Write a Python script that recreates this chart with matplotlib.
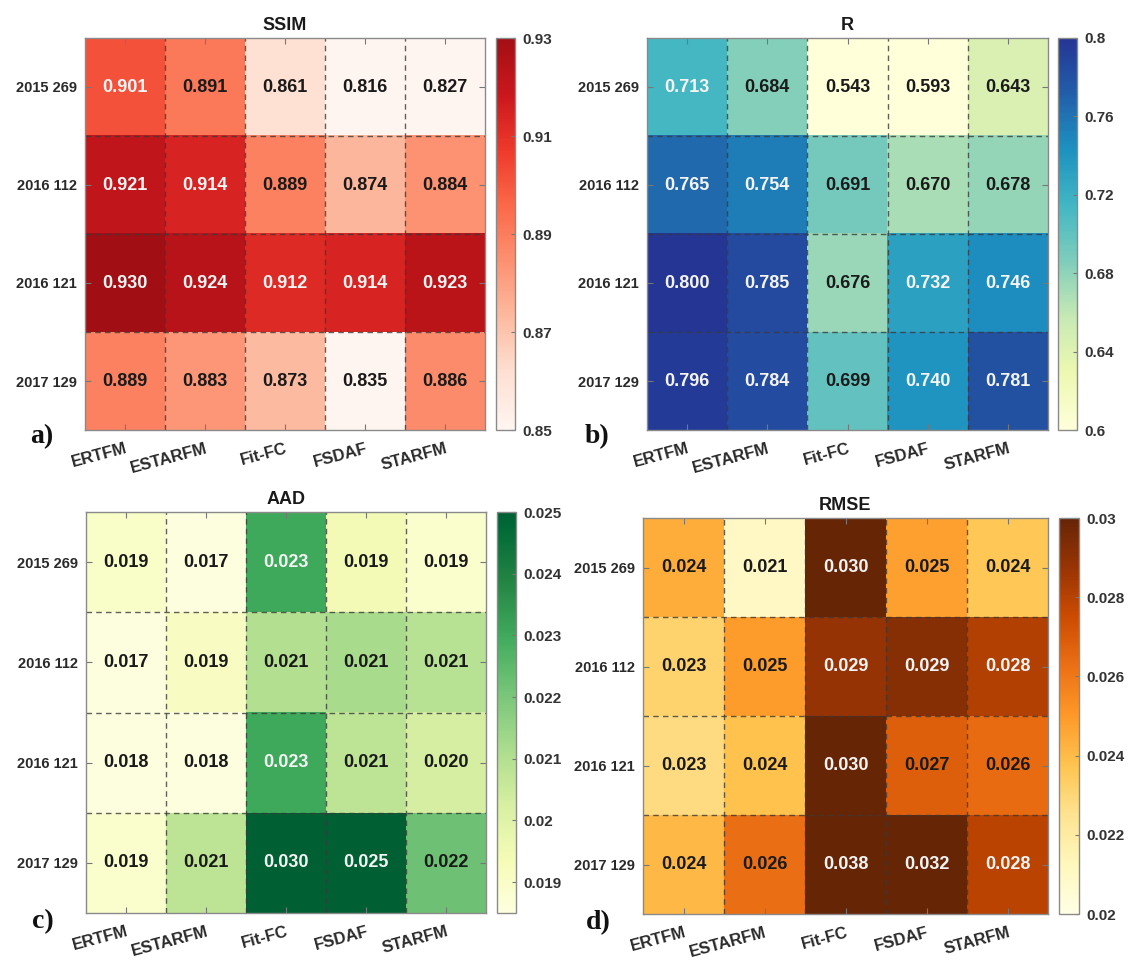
import numpy as np
import matplotlib
matplotlib.use("Agg")
import matplotlib.pyplot as plt
from matplotlib.colors import LinearSegmentedColormap

# ---------------- data ----------------
methods = ["ERTFM", "ESTARFM", "Fit-FC", "FSDAF", "STARFM"]
dates = ["2015 269", "2016 112", "2016 121", "2017 129"]

ssim = [[0.901, 0.891, 0.861, 0.816, 0.827],
        [0.921, 0.914, 0.889, 0.874, 0.884],
        [0.930, 0.924, 0.912, 0.914, 0.923],
        [0.889, 0.883, 0.873, 0.835, 0.886]]

r_vals = [[0.713, 0.684, 0.543, 0.593, 0.643],
          [0.765, 0.754, 0.691, 0.670, 0.678],
          [0.800, 0.785, 0.676, 0.732, 0.746],
          [0.796, 0.784, 0.699, 0.740, 0.781]]

aad = [[0.0190, 0.017, 0.023, 0.0194, 0.0189],
       [0.017, 0.0191, 0.021, 0.0212, 0.0209],
       [0.018, 0.018, 0.023, 0.0208, 0.0203],
       [0.0189, 0.0208, 0.030, 0.025, 0.0222]]

rmse = [[0.0244, 0.021, 0.030, 0.0248, 0.0236],
        [0.0232, 0.0249, 0.0288, 0.0292, 0.0281],
        [0.0228, 0.0238, 0.030, 0.0268, 0.0264],
        [0.0241, 0.0263, 0.038, 0.032, 0.0279]]

titles = ["SSIM", "R", "AAD", "RMSE"]
panel_letters = ["a)", "b)", "c)", "d)"]
vranges = [(0.85, 0.93), (0.6, 0.8), (0.0185, 0.025), (0.02, 0.03)]
cbar_ticks = [[0.85, 0.87, 0.89, 0.91, 0.93],
              [0.6, 0.64, 0.68, 0.72, 0.76, 0.8],
              [0.019, 0.020, 0.021, 0.022, 0.023, 0.024, 0.025],
              [0.02, 0.022, 0.024, 0.026, 0.028, 0.03]]
cbar_labels = [["0.85", "0.87", "0.89", "0.91", "0.93"],
               ["0.6", "0.64", "0.68", "0.72", "0.76", "0.8"],
               ["0.019", "0.02", "0.021", "0.022", "0.023", "0.024", "0.025"],
               ["0.02", "0.022", "0.024", "0.026", "0.028", "0.03"]]

# ---------------- styling ----------------
def trunc(name, lo, hi, n=256):
    base = plt.get_cmap(name)
    return LinearSegmentedColormap.from_list(name + "_t", base(np.linspace(lo, hi, n)))

cmaps = [trunc("Reds", 0.0, 0.88), trunc("YlGnBu", 0.0, 0.87),
         trunc("YlGn", 0.02, 0.9), trunc("YlOrBr", 0.0, 1.0)]
white_thr = [0.6, 0.53, 0.62, 0.75]

W, H = 1129, 960
fig = plt.figure(figsize=(W / 100, H / 100), dpi=100)

def fx(px):
    return px / W

def fy(py):
    return 1 - py / H

# axes boxes in pixel coords: left, right, top, bottom ; colorbar left,right
boxes = [(85, 485, 38, 430, 496, 515),
         (647, 1048, 38, 430, 1058, 1077),
         (86, 486, 512, 913, 497, 516),
         (643, 1048, 518, 914, 1059, 1079)]
letter_pos = [(42, 437), (597, 437), (43, 922), (598, 923)]

datasets = [ssim, r_vals, aad, rmse]
font = "Liberation Sans"
spine_col = "#8a8a8a"

for i, data in enumerate(datasets):
    arr = np.array(data)
    L, R, T, B, cL, cR = boxes[i]
    ax = fig.add_axes([fx(L), fy(B), fx(R) - fx(L), fy(T) - fy(B)])
    vmin, vmax = vranges[i]
    im = ax.imshow(arr, cmap=cmaps[i], vmin=vmin, vmax=vmax, aspect="auto",
                   interpolation="nearest")
    nr, nc = arr.shape
    # dashed cell boundaries
    for k in range(1, nc):
        ax.axvline(k - 0.5, color="#3a3a3a", lw=1.0, ls=(0, (4, 3)), alpha=0.8)
    for k in range(1, nr):
        ax.axhline(k - 0.5, color="#3a3a3a", lw=1.0, ls=(0, (4, 3)), alpha=0.8)
    # values
    for r in range(nr):
        for c in range(nc):
            v = arr[r, c]
            nv = (v - vmin) / (vmax - vmin)
            col = "#f4f4f4" if nv > white_thr[i] else "#1a1a1a"
            ax.text(c, r, f"{v:.3f}", ha="center", va="center", fontsize=13,
                    fontweight="bold", color=col, family=font)
    ax.set_xticks(range(nc))
    ax.set_yticks(range(nr))
    ax.set_xticklabels(methods, rotation=15, ha="right", va="top",
                       rotation_mode="anchor", fontsize=12, fontweight="bold",
                       color="#2a2a2a", family=font)
    ax.set_yticklabels(dates, fontsize=10.5, fontweight="bold", color="#2a2a2a",
                       family=font)
    ax.tick_params(axis="both", direction="in", length=4, color="#777777",
                   top=True, right=True, width=0.8)
    ax.tick_params(axis="x", pad=8)
    ax.tick_params(axis="y", pad=6)
    for s in ax.spines.values():
        s.set_color(spine_col)
        s.set_linewidth(1.0)
    ax.set_title(titles[i], fontsize=13, fontweight="bold", family=font,
                 color="#1a1a1a", pad=6)

    cax = fig.add_axes([fx(cL), fy(B), fx(cR) - fx(cL), fy(T) - fy(B)])
    cb = fig.colorbar(im, cax=cax)
    cb.set_ticks(cbar_ticks[i])
    cb.set_ticklabels(cbar_labels[i])
    cb.outline.set_edgecolor(spine_col)
    cb.outline.set_linewidth(1.0)
    cax.tick_params(direction="in", length=3, color="#777777", labelsize=11,
                    labelcolor="#333333", pad=5)
    for lab in cax.get_yticklabels():
        lab.set_fontweight("bold")
        lab.set_family(font)

    lx, ly = letter_pos[i]
    fig.text(fx(lx), fy(ly), panel_letters[i], fontsize=20, fontweight="bold",
             family="Liberation Serif", ha="center", va="center", color="#111111")

fig.savefig("out.png", dpi=100)
